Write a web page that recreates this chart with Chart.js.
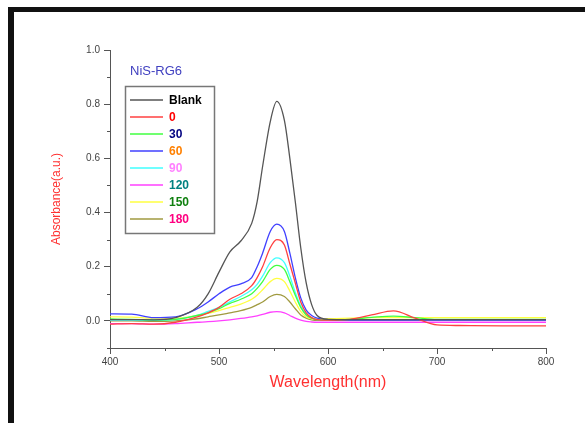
<!DOCTYPE html>
<html lang="en">
<head>
    <meta charset="UTF-8">
    <title>NiS-RG6 absorbance</title>
    <script src="https://cdn.jsdelivr.net/npm/chart.js"></script>
    <style>
        body {
            margin: 0;
            padding: 0;
            background: #ffffff;
        }
        .wrap {
            position: relative;
            width: 585px;
            height: 423px;
            overflow: hidden;
        }
        .frame {
            position: absolute;
            left: 8px;
            top: 7px;
            width: 620px;
            height: 450px;
            border-top: 5px solid #111;
            border-left: 6px solid #111;
        }
        canvas {
            position: absolute;
            left: 0;
            top: 0;
        }
    </style>
</head>
<body>
    <div class="wrap">
        <div class="frame"></div>
        <canvas id="chart" width="585" height="423"></canvas>
    </div>

    <script>
        // wavelengths (nm) shared by every curve
        const wavelengths = [400, 420, 440, 460, 480, 490, 500, 510, 520, 530, 535, 540, 547, 553, 560, 565, 570, 575, 580, 585, 590, 600, 620, 640, 660, 680, 700, 720, 760, 800];

        const seriesNames = ['Blank', '0', '30', '60', '90', '120', '150', '180'];
        const lineColors = ['#555555', '#ff4040', '#40ff40', '#4040ff', '#40ffff', '#ff40ff', '#ffff40', '#a09a40'];
        const legendTextColors = ['#000000', '#ff0000', '#000080', '#ff8000', '#ff80ff', '#008080', '#108010', '#ff0080'];

        // absorbance
        const blank = [0.005, 0.005, 0.004, 0.012, 0.05, 0.10, 0.18, 0.255, 0.295, 0.36, 0.44, 0.57, 0.735, 0.81, 0.74, 0.60, 0.44, 0.27, 0.14, 0.06, 0.02, 0.006, 0.005, 0.005, 0.005, 0.005, 0.005, 0.005, 0.005, 0.005];
        const t0 = [-0.012, -0.01, -0.012, -0.005, 0.015, 0.03, 0.05, 0.08, 0.10, 0.13, 0.16, 0.20, 0.27, 0.30, 0.28, 0.21, 0.14, 0.07, 0.03, 0.012, 0.005, 0.003, 0.006, 0.022, 0.037, 0.01, -0.015, -0.017, -0.018, -0.018];
        const t30 = [0.007, 0.006, 0.004, 0.006, 0.02, 0.03, 0.045, 0.065, 0.08, 0.10, 0.12, 0.145, 0.19, 0.205, 0.19, 0.145, 0.095, 0.05, 0.022, 0.01, 0.005, 0.004, 0.006, 0.013, 0.018, 0.012, 0.006, 0.006, 0.006, 0.006];
        const t60 = [0.026, 0.025, 0.012, 0.015, 0.045, 0.07, 0.10, 0.125, 0.137, 0.16, 0.20, 0.25, 0.33, 0.357, 0.33, 0.25, 0.16, 0.085, 0.04, 0.02, 0.01, 0.005, 0.003, 0.003, 0.003, 0.003, 0.003, 0.003, 0.003, 0.003];
        const t90 = [0.003, 0.003, 0.002, 0.005, 0.02, 0.035, 0.05, 0.07, 0.09, 0.115, 0.135, 0.165, 0.215, 0.233, 0.215, 0.165, 0.105, 0.055, 0.025, 0.01, 0.005, 0.004, 0.004, 0.004, 0.004, 0.004, 0.004, 0.004, 0.004, 0.004];
        const t120 = [-0.01, -0.01, -0.012, -0.01, -0.005, -0.003, 0.0, 0.004, 0.009, 0.015, 0.019, 0.024, 0.032, 0.034, 0.03, 0.02, 0.01, 0.003, -0.002, -0.004, -0.005, -0.005, -0.005, -0.005, -0.005, -0.005, -0.005, -0.005, -0.005, -0.005];
        const t150 = [0.015, 0.014, 0.01, 0.01, 0.02, 0.028, 0.038, 0.05, 0.062, 0.08, 0.095, 0.115, 0.145, 0.157, 0.145, 0.11, 0.07, 0.035, 0.015, 0.008, 0.006, 0.008, 0.01, 0.012, 0.012, 0.012, 0.012, 0.012, 0.012, 0.012];
        const t180 = [0.0, 0.0, -0.002, 0.0, 0.008, 0.015, 0.022, 0.03, 0.038, 0.05, 0.06, 0.07, 0.09, 0.098, 0.09, 0.07, 0.045, 0.022, 0.01, 0.004, 0.002, 0.002, 0.002, 0.002, 0.002, 0.002, 0.002, 0.002, 0.002, 0.002];

        const allSeries = [blank, t0, t30, t60, t90, t120, t150, t180];

        const yMajor = [0, 0.2, 0.4, 0.6, 0.8, 1.0];
        const yMinor = [-0.1, 0.1, 0.3, 0.5, 0.7, 0.9];
        const xMinor = [450, 550, 650, 750];

        const datasets = allSeries.map((vals, i) => ({
            label: seriesNames[i],
            data: wavelengths.map((w, k) => ({ x: w, y: vals[k] })),
            borderColor: lineColors[i],
            borderWidth: 1.3,
            pointRadius: 0,
            cubicInterpolationMode: 'monotone',
            fill: false
        }));

        // short minor ticks + legend box + sample label
        const extras = {
            id: 'extras',
            afterDraw(chart) {
                const ctx = chart.ctx;
                const xs = chart.scales.x, ys = chart.scales.y;
                const area = chart.chartArea;
                ctx.save();
                ctx.strokeStyle = '#555';
                ctx.lineWidth = 1;
                ctx.beginPath();
                yMinor.forEach(v => {
                    const py = Math.round(ys.getPixelForValue(v)) + 0.5;
                    ctx.moveTo(area.left - 3, py);
                    ctx.lineTo(area.left, py);
                });
                xMinor.forEach(v => {
                    const px = Math.round(xs.getPixelForValue(v)) + 0.5;
                    ctx.moveTo(px, area.bottom);
                    ctx.lineTo(px, area.bottom + 3);
                });
                ctx.stroke();

                // sample name
                ctx.fillStyle = '#4040c0';
                ctx.font = '13px "Liberation Sans", Arial, sans-serif';
                ctx.textBaseline = 'middle';
                ctx.fillText('NiS-RG6', 130, 71);

                // legend
                ctx.strokeStyle = '#777';
                ctx.lineWidth = 1.5;
                ctx.strokeRect(125.5, 86.5, 89, 147);
                ctx.font = 'bold 12px "Liberation Sans", Arial, sans-serif';
                chart.data.datasets.forEach((ds, i) => {
                    const y = 100 + i * 17;
                    ctx.strokeStyle = ds.borderColor;
                    ctx.lineWidth = 1.3;
                    ctx.beginPath();
                    ctx.moveTo(130, y);
                    ctx.lineTo(163, y);
                    ctx.stroke();
                    ctx.fillStyle = legendTextColors[i];
                    ctx.fillText(ds.label, 169, y + 1);
                });
                ctx.restore();
            }
        };

        new Chart(document.getElementById('chart'), {
            type: 'line',
            data: { datasets },
            options: {
                responsive: false,
                devicePixelRatio: 1,
                animation: false,
                layout: { padding: { left: 45, top: 50, right: 39, bottom: 27 } },
                plugins: {
                    legend: { display: false },
                    tooltip: { enabled: false }
                },
                scales: {
                    x: {
                        type: 'linear',
                        min: 400,
                        max: 800,
                        ticks: {
                            stepSize: 100,
                            color: '#444',
                            padding: 2,
                            maxRotation: 0,
                            font: { family: '"Liberation Sans", Arial, sans-serif', size: 10 }
                        },
                        grid: { drawOnChartArea: false, drawTicks: true, tickLength: 6, tickColor: '#555' },
                        border: { display: true, color: '#555', width: 1 },
                        title: {
                            display: true,
                            text: 'Wavelength(nm)',
                            color: '#ff3030',
                            font: { family: '"Liberation Sans", Arial, sans-serif', size: 16 }
                        },
                        afterFit(scale) { scale.height = 48; }
                    },
                    y: {
                        type: 'linear',
                        min: -0.1,
                        max: 1.0,
                        afterBuildTicks(scale) { scale.ticks = yMajor.map(v => ({ value: v })); },
                        ticks: {
                            color: '#444',
                            padding: 4,
                            callback: v => Number(v).toFixed(1),
                            font: { family: '"Liberation Sans", Arial, sans-serif', size: 10 }
                        },
                        grid: { drawOnChartArea: false, drawTicks: true, tickLength: 6, tickColor: '#555' },
                        border: { display: true, color: '#555', width: 1 },
                        title: {
                            display: true,
                            text: 'Absorbance(a.u.)',
                            color: '#ff3030',
                            font: { family: '"Liberation Sans", Arial, sans-serif', size: 12 }
                        },
                        afterFit(scale) { scale.width = 65; }
                    }
                }
            },
            plugins: [extras]
        });
    </script>
</body>
</html>
